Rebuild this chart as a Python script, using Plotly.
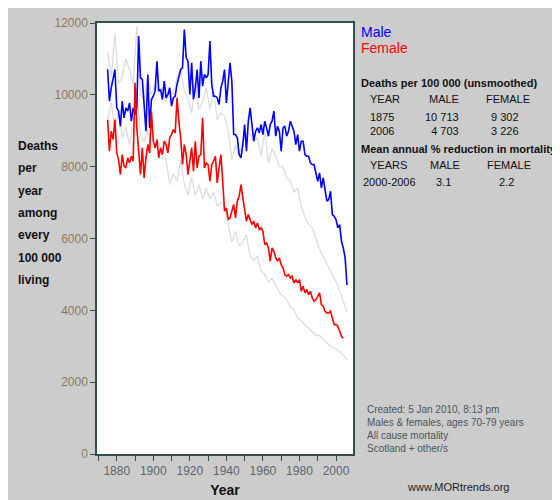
import plotly.graph_objects as go

years = list(range(1875, 2007))
male = [10713,9823,10195,10427,10705,9638,9545,9127,9823,9359,
        9638,9545,9777,9266,9638,9452,9638,11634,10473,10427,
        9638,8988,10566,9080,9870,9962,10102,10937,10102,10148,
        9870,10380,9916,10009,10195,9684,9916,9962,10288,10473,
        10705,10752,11820,11030,10937,10009,10891,9870,10195,10705,
        9916,10937,10241,10566,10473,10566,11495,10288,9962,9962,
        9916,9730,10195,10380,10705,9777,10473,10891,10380,8895,
        8895,8802,8338,8245,8616,9173,8431,9266,9638,9080,
        8709,8988,9080,8941,9173,8895,9266,9080,8848,9173,
        9266,9545,8848,9127,8988,8431,9080,9127,8848,8988,
        9266,9127,8988,8616,8895,8431,8709,8709,8338,8291,
        8291,8105,8059,8059,7781,7595,7827,7409,7688,7316,
        7038,7084,7316,6666,6620,6527,6295,6388,5923,5738,
        5459,4703]
female = [9302,8430,8988,8755,9313,8384,8198,7781,8338,
          8013,7966,8245,8105,8291,8152,10334,9080,8523,
          7781,8523,7688,8245,8616,8384,9545,8709,8523,8755,
          8245,8523,8338,8709,8616,8384,8802,8895,9034,
          8941,9916,9266,8802,8059,8616,8338,7781,8152,8523,
          7873,8709,7966,8291,8338,9359,7966,8105,
          8059,7595,8059,8152,8291,7548,7966,8338,7595,6759,
          6852,6527,6573,6759,6945,6573,7038,7177,7502,7131,
          6759,6481,6666,6527,6388,6481,6295,6434,6248,6295,
          6202,5831,
          5877,5738,5367,5738,5645,5460,5367,5460,5274,5181,
          4995,4949,4995,4903,4949,4763,4856,4763,4856,4531,
          4670,4485,4577,4438,4531,4345,4253,4299,4392,4485,
          4160,4113,3974,3928,3928,3974,3788,3603,3603,3556,
          3417,3278,3226]

gray_years = list(range(1875, 2006, 2)) + [2006]
gray_upper = [11200,10500,11700,10300,10500,11000,10700,10300,11900,10000,
              9900,10500,10000,10300,10100,10200,9800,10100,10000,10500,
              10700,10100,9900,9500,10300,9600,9800,10200,9600,10100,
              9300,9500,9400,9000,8200,8600,8300,8700,8900,8900,
              8700,8800,8300,9000,8100,8500,8300,8000,8000,7700,
              7600,7300,7400,6900,6600,6400,6300,6000,5700,5500,
              5300,5100,4900,4700,4400,4100,3950]
gray_lower = [9300,9800,9000,9600,8800,9100,8600,9200,10200,8800,
              8700,9000,8600,8500,8700,8300,8200,7500,7800,7600,
              8200,7500,7200,7700,7200,7500,7100,7400,7100,7300,
              6900,7000,6900,6400,5900,6200,5800,5900,6100,5500,
              5400,5500,5100,5000,4800,4900,4700,4500,4400,4300,
              4100,4000,3800,3700,3600,3500,3400,3300,3300,3200,
              3100,3000,2950,2900,2800,2700,2620]

x_ticks = [1880, 1900, 1920, 1940, 1960, 1980, 2000]
y_ticks = [0, 2000, 4000, 6000, 8000, 10000, 12000]
y_title = ["Deaths", "per", "year", "among", "every", "100 000", "living"]

FONT = "Liberation Sans, Arial, sans-serif"
fig = go.Figure()
for g in (gray_upper, gray_lower):
    fig.add_trace(go.Scatter(x=gray_years[:len(g)], y=g, mode="lines",
                             line=dict(color="#dcdcdc", width=1.3), hoverinfo="skip"))
fig.add_trace(go.Scatter(x=years[:len(male)], y=male, mode="lines", line=dict(color="#0000ff", width=1.6)))
fig.add_trace(go.Scatter(x=years[:len(female)], y=female, mode="lines", line=dict(color="#ff0000", width=1.6)))

fig.update_layout(
    width=560, height=500, showlegend=False,
    paper_bgcolor="#cccccc", plot_bgcolor="white",
    margin=dict(l=89, r=215, t=15, b=54, autoexpand=False),
    font=dict(family=FONT, size=12, color="#222"),
    xaxis=dict(range=[1869.2, 2009.3], tickvals=list(range(1870, 2011, 10)),
               ticktext=[str(v) if v in x_ticks else "" for v in range(1870, 2011, 10)],
               ticks="outside", ticklen=5, tickcolor="#2f4f4f", showgrid=False, zeroline=False,
               showline=True, linecolor="#2f4f4f", linewidth=1.5, mirror=True,
               tickfont=dict(color="#5a6470", size=12),
               title=dict(text="<b>Year</b>", font=dict(size=14, color="#111"), standoff=8)),
    yaxis=dict(range=[0, 12000], tickvals=y_ticks, tickformat="d", ticks="outside", ticklen=5,
               tickcolor="#2f4f4f", showgrid=False, zeroline=False, showline=True,
               linecolor="#2f4f4f", linewidth=1.5, mirror=True,
               tickfont=dict(color="#8b7a55", size=12)),
)

def px(x): return (x - 89) / 256.0
def py(y): return (446 - y) / 431.0

def ann(x, y, text, size=12, color="#111", xanchor="left", align="left"):
    fig.add_annotation(x=px(x), y=py(y), xref="paper", yref="paper", text=text, showarrow=False,
                       xanchor=xanchor, yanchor="top", align=align,
                       font=dict(size=size, color=color, family=FONT))

for i, w in enumerate(y_title):
    ann(8, 129 + i * 22.3, "<b>" + w + "</b>", size=12)

ann(351, 14, "Male", size=14, color="#0000ff")
ann(351, 30, "Female", size=14, color="#ff0000")
ann(351, 67, "<b>Deaths per 100 000 (unsmoothed)</b>", size=11)
ann(360, 83, "YEAR", size=11)
ann(436, 83, "MALE", size=11, xanchor="center")
ann(500, 83, "FEMALE", size=11, xanchor="center")
ann(360, 101, "1875<br>2006", size=11)
ann(453, 101, "10 713<br>4 703", size=11, xanchor="right", align="right")
ann(513, 101, "9 302<br>3 226", size=11, xanchor="right", align="right")
ann(351, 133, "<b>Mean annual % reduction in mortality</b>", size=11)
ann(360, 149, "YEARS", size=11)
ann(437, 149, "MALE", size=11, xanchor="center")
ann(501, 149, "FEMALE", size=11, xanchor="center")
ann(353, 166, "2000-2006", size=11)
ann(445, 166, "3.1", size=11, xanchor="right")
ann(508, 166, "2.2", size=11, xanchor="right")
ann(357, 394, "Created: 5 Jan 2010, 8:13 pm<br>Males &amp; females, ages 70-79 years<br>All cause mortality<br>Scotland + other/s",
    size=10, color="#4a5560")
ann(450, 471, "www.MORtrends.org", size=11, color="#222", xanchor="center")

fig.write_html("out.html")
